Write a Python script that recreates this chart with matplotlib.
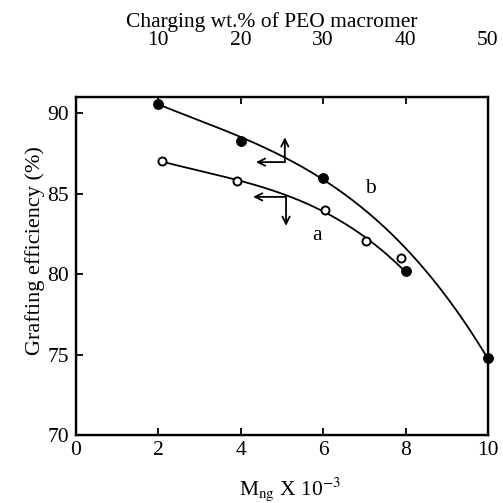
import numpy as np
import matplotlib
matplotlib.use("Agg")
import matplotlib.pyplot as plt

plt.rcParams['font.family'] = ['Liberation Serif', 'DejaVu Serif']
plt.rcParams['mathtext.fontset'] = 'stix'

# Series b (filled markers)
b_x = [2.0, 4.0, 6.0, 10.0]
b_y = [90.6, 88.3, 86.0, 74.8]
# filled point at Mng=8
b8_x = [8.0]
b8_y = [80.2]
# Series a (open markers)
a_x = [2.1, 3.9, 6.05, 7.05, 7.9]
a_y = [87.0, 85.8, 84.0, 82.05, 81.0]

# points
curve_b_x = [2.0, 4.0, 6.0, 8.0, 10.0]
curve_b_y = [90.6, 88.3, 86.2, 81.4, 74.8]
curve_a_x = [2.1, 3.9, 6.05, 7.05, 8.0]
curve_a_y = [87.0, 85.8, 84.0, 82.05, 80.2]

bottom_ticks = [0, 2, 4, 6, 8, 10]
top_ticks = [10, 20, 30, 40, 50]
y_ticks = [70, 75, 80, 85, 90]

FS = 15.5

fig = plt.figure(figsize=(5.03, 5.03), dpi=100)
ax = fig.add_axes([0.151, 0.135, 0.819, 0.672])

cb = np.polyfit(curve_b_x, curve_b_y, 3)
xb = np.linspace(curve_b_x[0], curve_b_x[-1], 200)
ax.plot(xb, np.polyval(cb, xb), color='black', lw=1.3)
ca = np.polyfit(curve_a_x, curve_a_y, 3)
xa = np.linspace(curve_a_x[0], curve_a_x[-1], 200)
ax.plot(xa, np.polyval(ca, xa), color='black', lw=1.3)

ax.plot(b_x, b_y, 'o', color='black', ms=6.8, clip_on=False, zorder=5)
ax.plot(b8_x, b8_y, 'o', color='black', ms=6.8, zorder=5)
ax.plot(a_x, a_y, 'o', mfc='white', mec='black', mew=1.4, ms=5.8, zorder=5)

# arrows
arrow_kw = dict(arrowstyle='->', color='black', lw=1.3, shrinkA=0, shrinkB=0, mutation_scale=13)
ax.annotate('', xy=(4.37, 86.96), xytext=(5.07, 86.96), arrowprops=arrow_kw)
ax.annotate('', xy=(5.07, 88.5), xytext=(5.07, 86.96), arrowprops=arrow_kw)
ax.annotate('', xy=(4.3, 84.8), xytext=(5.1, 84.8), arrowprops=arrow_kw)
ax.annotate('', xy=(5.1, 83.0), xytext=(5.1, 84.8), arrowprops=arrow_kw)

ax.text(7.16, 85.3, 'b', fontsize=FS, ha='center', va='center')
ax.text(5.85, 82.4, 'a', fontsize=FS, ha='center', va='center')

ax.set_xlim(0, 10)
ax.set_ylim(70, 91)
ax.set_xticks(bottom_ticks)
ax.set_yticks(y_ticks)
ax.tick_params(direction='in', length=5, width=1.3, labelsize=FS, top=False, right=False, pad=4)
ax.tick_params(axis='y', pad=5)
for s in ax.spines.values():
    s.set_linewidth(1.7)

ax.set_xlabel(r'M$_{\rm ng}$ X 10$^{-3}$', fontsize=FS)
ax.xaxis.set_label_coords(0.519, -0.160)
ax.xaxis.label.set_va('center')
ax.set_ylabel('Grafting efficiency (%)', fontsize=16)
ax.yaxis.set_label_coords(-0.10, 0.547)
ax.yaxis.label.set_va('center')

ax2 = ax.twiny()
ax2.set_xlim(0, 50)
ax2.set_xticks(top_ticks)
ax2.tick_params(direction='in', length=5, width=1.3, labelsize=FS, pad=34)
ax2.set_xlabel('Charging wt.% of PEO macromer', fontsize=FS)
ax2.xaxis.set_label_coords(0.476, 1.222)
ax2.xaxis.label.set_va('center')

fig.savefig('out.png', dpi=100)
